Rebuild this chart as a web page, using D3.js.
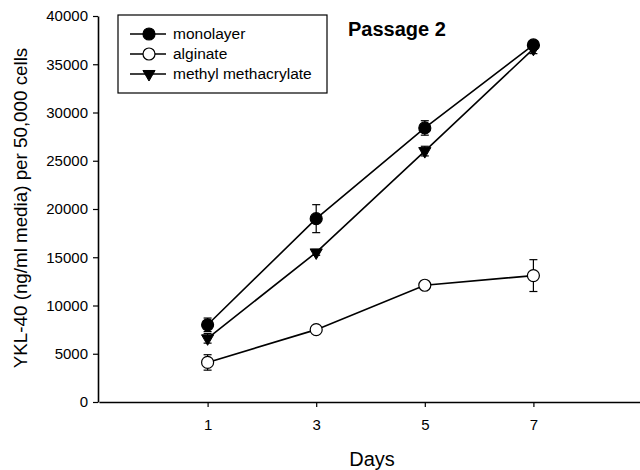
<!DOCTYPE html>
<html>
<head>
<meta charset="utf-8">
<script src="https://cdn.jsdelivr.net/npm/d3@7"></script>
<style>
  body { margin: 0; background: #fff; }
  svg { display: block; font-family: Arial, "Liberation Sans", sans-serif; }
</style>
</head>
<body>
<div id="vis"></div>
<script>
// data
var days = [1, 3, 5, 7];
var monolayer = [8000, 19000, 28400, 37000];
var monolayerErr = [700, 1450, 750, 400];
var alginate = [4100, 7500, 12100, 13100];
var alginateErr = [800, 200, 300, 1650];
var mma = [6600, 15500, 26000, 36600];
var mmaErr = [500, 300, 500, 500];
var xTicks = [1, 3, 5, 7];
var yTicks = [0, 5000, 10000, 15000, 20000, 25000, 30000, 35000, 40000];

var series = [
  { name: "monolayer", values: monolayer, err: monolayerErr, symbol: "circle", fill: "#000" },
  { name: "alginate", values: alginate, err: alginateErr, symbol: "circle", fill: "#fff" },
  { name: "methyl methacrylate", values: mma, err: mmaErr, symbol: "triangle", fill: "#000" }
];

var width = 640, height = 470;

var svg = d3.select("#vis")
  .append("svg")
    .attr("width", width)
    .attr("height", height);

// scales
var x = d3.scaleLinear()
  .domain([-1, 9])
  .range([99, 642]);

var y = d3.scaleLinear()
  .domain([0, 40000])
  .range([402, 16]);

// axes
var xAxis = svg.append("g")
  .attr("transform", "translate(0,402)")
  .call(d3.axisBottom(x).tickValues(xTicks).tickSize(5).tickSizeOuter(0).tickPadding(12));

var yAxis = svg.append("g")
  .attr("transform", "translate(98,0)")
  .call(d3.axisLeft(y).tickValues(yTicks).tickSize(5).tickSizeOuter(0).tickPadding(5).tickFormat(d3.format("d")));

[xAxis, yAxis].forEach(function (g) {
  g.selectAll("text").style("font-size", "15px").style("fill", "#000")
    .style("font-family", "Arial, 'Liberation Sans', sans-serif");
  g.select(".domain").attr("stroke", "#000").attr("stroke-width", 1.6);
  g.selectAll(".tick line").attr("stroke", "#000").attr("stroke-width", 1.2);
});

// axis titles
svg.append("text")
  .attr("x", 372)
  .attr("y", 466)
  .attr("text-anchor", "middle")
  .style("font-size", "20px")
  .text("Days");

svg.append("text")
  .attr("transform", "translate(27,208) rotate(-90)")
  .attr("text-anchor", "middle")
  .style("font-size", "18.8px")
  .text("YKL-40 (ng/ml media) per 50,000 cells");

svg.append("text")
  .attr("x", 348)
  .attr("y", 36)
  .style("font-size", "20px")
  .style("font-weight", "bold")
  .text("Passage 2");

var line = d3.line()
  .x(function (d) { return x(d.day); })
  .y(function (d) { return y(d.v); });

var tri = d3.symbol().type(d3.symbolTriangle).size(64);

function drawMarker(g, s) {
  if (s.symbol === "circle") {
    g.append("circle")
      .attr("r", 6)
      .attr("fill", s.fill)
      .attr("stroke", "#000")
      .attr("stroke-width", 1.2);
  } else {
    g.append("path")
      .attr("d", tri)
      .attr("transform", "rotate(180)")
      .attr("fill", s.fill)
      .attr("stroke", "#000")
      .attr("stroke-width", 1);
  }
}

series.forEach(function (s) {
  var pts = days.map(function (d, i) { return { day: d, v: s.values[i], e: s.err[i] }; });
  var g = svg.append("g");

  g.append("path")
    .datum(pts)
    .attr("d", line)
    .attr("fill", "none")
    .attr("stroke", "#000")
    .attr("stroke-width", 1.6);

  // error bars
  var eb = g.selectAll(".err")
    .data(pts)
    .enter().append("g")
    .attr("class", "err");
  eb.append("line")
    .attr("x1", function (d) { return x(d.day); })
    .attr("x2", function (d) { return x(d.day); })
    .attr("y1", function (d) { return y(d.v - d.e); })
    .attr("y2", function (d) { return y(d.v + d.e); })
    .attr("stroke", "#000").attr("stroke-width", 1.2);
  [-1, 1].forEach(function (sign) {
    eb.append("line")
      .attr("x1", function (d) { return x(d.day) - 4; })
      .attr("x2", function (d) { return x(d.day) + 4; })
      .attr("y1", function (d) { return y(d.v + sign * d.e); })
      .attr("y2", function (d) { return y(d.v + sign * d.e); })
      .attr("stroke", "#000").attr("stroke-width", 1.2);
  });

  g.selectAll(".mk")
    .data(pts)
    .enter().append("g")
    .attr("class", "mk")
    .attr("transform", function (d) { return "translate(" + x(d.day) + "," + y(d.v) + ")"; })
    .each(function () { drawMarker(d3.select(this), s); });
});

// legend
var legend = svg.append("g").attr("transform", "translate(118,15)");
legend.append("rect")
  .attr("width", 209)
  .attr("height", 78)
  .attr("fill", "#fff")
  .attr("stroke", "#000")
  .attr("stroke-width", 1.2);

series.forEach(function (s, i) {
  var row = legend.append("g").attr("transform", "translate(0," + (19 + i * 20) + ")");
  row.append("line")
    .attr("x1", 12).attr("x2", 48)
    .attr("stroke", "#000").attr("stroke-width", 1.6);
  drawMarker(row.append("g").attr("transform", "translate(31,0)"), s);
  row.append("text")
    .attr("x", 55)
    .attr("y", 5)
    .style("font-size", "15.5px")
    .text(s.name);
});
</script>
</body>
</html>
